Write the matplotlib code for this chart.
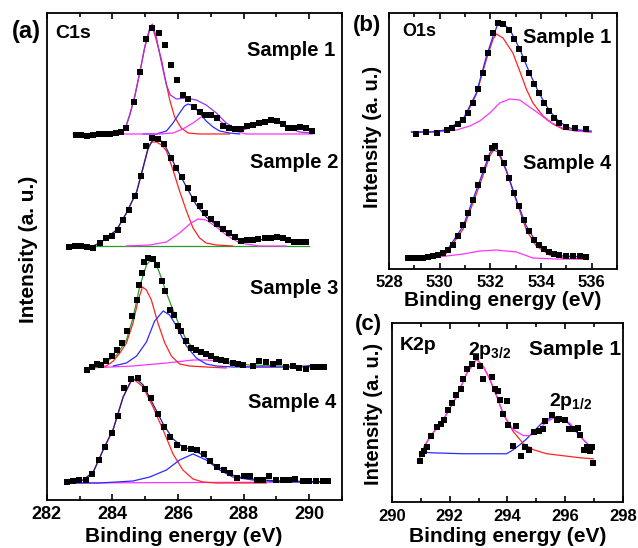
import numpy as np
import matplotlib
matplotlib.use('Agg')
import matplotlib.pyplot as plt
from matplotlib.ticker import MultipleLocator

plt.rcParams['font.family'] = 'Liberation Sans'
plt.rcParams['font.weight'] = 'bold'
plt.rcParams['mathtext.fontset'] = 'custom'
plt.rcParams['mathtext.rm'] = 'Liberation Sans:bold'
plt.rcParams['mathtext.it'] = 'Liberation Sans:bold'
plt.rcParams['mathtext.bf'] = 'Liberation Sans:bold'
plt.rcParams['mathtext.default'] = 'rm'

# ---- (a) C1s, four samples stacked (binding energy, intensity a.u. above own baseline)
a_offsets = [366, 254, 133, 17]
a_samples = ['Sample 1', 'Sample 2', 'Sample 3', 'Sample 4']

a1_pts = [(282.89,-1),(283.06,-1),(283.24,-2),(283.42,-1),(283.59,0),(283.75,0),(283.93,0),(284.10,1),
          (284.25,2),(284.43,6),(284.66,32),(284.84,62),(285.04,95),(285.22,106),(285.41,101),(285.61,89),
          (285.78,69),(285.96,54),(286.15,39),(286.31,35),(286.48,27),(286.66,22),(286.84,19),(287.00,19),
          (287.18,16),(287.37,8),(287.55,6),(287.73,5),(287.93,5),(288.10,8),(288.28,9),(288.46,11),
          (288.66,12),(288.84,14),(289.02,13),(289.19,10),(289.37,6),(289.55,6),(289.73,7),(289.90,6),(290.09,3)]
a1_env = [(282.81,0),(284.23,1),(284.38,4),(284.53,19),(284.68,37),(284.84,62),(284.99,87),(285.14,106),
          (285.22,110),(285.34,97),(285.50,71),(285.65,49),(285.77,39),(285.95,35),(286.26,36),(286.56,34),
          (286.86,29),(287.17,21),(287.47,11),(287.67,7),(287.88,4),(288.08,5),(288.38,9),(288.69,12),
          (288.84,13),(289.09,11),(289.40,6),(289.70,2),(290.05,1)]
a1_red = [(283.62,0),(284.23,1),(284.38,4),(284.53,19),(284.68,37),(284.84,62),(284.99,87),(285.14,104),
          (285.22,107),(285.34,94),(285.50,74),(285.60,57),(285.75,34),(285.90,17),(286.10,6),(286.31,1),
          (286.66,0),(287.57,0)]
a1_blue = [(284.94,0),(285.34,0),(285.65,3),(285.85,11),(286.05,21),(286.20,28),(286.31,30),(286.46,28),
           (286.66,21),(286.86,13),(287.07,7),(287.27,3),(287.57,1),(287.88,0)]
a1_mag = [(282.86,0),(285.44,0),(285.85,1),(286.15,5),(286.46,11),(286.71,17),(286.91,19),(287.12,17),
          (287.32,12),(287.57,6),(287.83,2),(288.08,0),(290.11,0)]

a2_pts = [(282.69,-1),(282.87,0),(283.05,0),(283.24,-1),(283.42,-2),(283.62,3),(283.80,8),(283.98,10),
          (284.16,16),(284.33,26),(284.51,36),(284.70,50),(284.88,70),(285.04,100),(285.22,108),(285.40,107),
          (285.58,102),(285.78,88),(285.95,78),(286.13,69),(286.31,58),(286.49,47),(286.66,40),(286.83,33),
          (287.02,27),(287.19,22),(287.37,17),(287.57,13),(287.74,9),(287.93,5),(288.10,6),(288.28,6),
          (288.45,7),(288.65,8),(288.84,8),(289.02,9),(289.19,8),(289.37,6),(289.55,4),(289.73,4),(289.90,4)]
a2_env = [(282.69,0),(283.42,0),(283.62,3),(284.13,16),(284.43,33),(284.74,54),(284.94,79),(285.09,98),
          (285.22,105),(285.34,107),(285.55,104),(285.75,91),(285.95,78),(286.26,59),(286.56,41),(286.86,29),
          (287.17,21),(287.47,14),(287.78,8),(288.08,5),(288.48,6),(288.99,9),(289.40,6),(289.90,3)]
a2_red = [(283.42,0),(283.62,3),(284.13,16),(284.43,33),(284.74,54),(284.94,78),(285.09,97),(285.19,104),
          (285.34,104),(285.50,101),(285.65,95),(285.85,76),(286.05,55),(286.26,35),(286.46,18),(286.66,8),
          (286.86,3),(287.17,1),(287.67,0)]
a2_mag = [(284.43,0),(285.14,1),(285.65,4),(286.05,13),(286.36,22),(286.61,27),(286.86,26),(287.17,19),
          (287.47,11),(287.88,3),(288.48,0),(289.29,0)]
a2_green = [(282.69,0),(290.00,0)]

a3_pts = [(283.24,-3),(283.37,0),(283.52,3),(283.67,2),(283.82,6),(283.98,11),(284.13,17),(284.28,24),
          (284.46,36),(284.61,51),(284.74,67),(284.82,82),(284.89,94),(284.97,105),(285.09,109),(285.24,108),
          (285.37,102),(285.50,86),(285.62,76),(285.75,57),(285.87,52),(286.00,41),(286.10,36),(286.26,26),
          (286.41,19),(286.56,17),(286.71,15),(286.86,13),(287.02,11),(287.17,8),(287.32,7),(287.47,6),
          (287.67,4),(287.83,3),(287.98,2),(288.28,1),(288.48,6),(288.69,5),(288.89,3),(289.09,5),
          (289.29,0),(289.50,1),(289.70,-1),(289.90,-2),(290.11,0),(290.31,0),(290.46,0)]
a3_env = [(283.27,-3),(283.62,1),(284.13,12),(284.43,27),(284.63,49),(284.84,81),(285.04,102),(285.16,107),
          (285.29,106),(285.44,94),(285.65,74),(285.85,57),(286.05,41),(286.26,27),(286.46,19),(286.76,13),
          (287.17,8),(287.67,4),(288.18,2),(289.19,1),(290.41,0)]
a3_red = [(283.52,0),(283.82,1),(284.03,6),(284.23,14),(284.43,24),(284.63,44),(284.79,67),(284.92,80),
          (285.04,77),(285.19,67),(285.39,44),(285.60,24),(285.80,11),(286.05,3),(286.36,1),(286.86,0),(287.47,-1)]
a3_blue = [(284.03,1),(284.43,4),(284.74,11),(285.04,25),(285.29,46),(285.55,56),(285.75,52),(285.95,41),
           (286.26,21),(286.56,9),(286.86,3),(287.17,1),(287.67,0),(289.40,0),(289.90,1),(290.11,2),
           (290.31,1),(290.46,0)]
a3_mag = [(283.27,-1),(284.63,1),(285.65,4),(286.46,7),(286.86,7),(287.27,6),(287.67,2),(288.18,0),(290.46,0)]

a4_pts = [(282.61,1),(282.79,2),(282.99,3),(283.19,3),(283.37,9),(283.59,23),(283.77,36),(283.98,50),
          (284.16,67),(284.36,95),(284.56,104),(284.77,105),(284.99,94),(285.19,85),(285.39,69),(285.58,56),
          (285.77,46),(285.98,38),(286.18,35),(286.39,34),(286.59,33),(286.78,29),(286.98,22),(287.19,16),
          (287.39,13),(287.59,10),(287.80,5),(288.01,7),(288.20,7),(288.40,3),(288.59,3),(288.79,7),
          (288.99,3),(289.19,3),(289.40,3),(289.58,4),(289.80,2),(290.00,2),(290.21,2),(290.41,2),(290.56,2)]
a4_env = [(282.56,0),(283.11,3),(283.42,11),(283.72,33),(284.03,54),(284.33,86),(284.58,103),(284.74,104),
          (284.94,98),(285.24,79),(285.55,59),(285.85,44),(286.15,36),(286.46,33),(286.76,28),(287.07,19),
          (287.37,13),(287.67,8),(287.98,5),(288.48,3),(289.19,2),(290.61,1)]
a4_red = [(282.56,0),(283.11,3),(283.42,11),(283.72,33),(284.03,54),(284.33,86),(284.58,102),(284.68,103),
          (284.94,96),(285.24,76),(285.55,53),(285.85,29),(286.15,13),(286.46,4),(286.76,1),(287.17,0),(288.69,0)]
a4_blue = [(282.61,0),(283.62,0),(284.63,2),(285.14,6),(285.65,13),(286.05,23),(286.46,29),(286.86,23),
           (287.27,13),(287.67,6),(288.28,3),(289.19,1),(290.61,1)]
a4_mag = [(282.56,0),(290.61,1)]

# ---- (b) O1s
b_offsets = [137, 11]
b_samples = ['Sample 1', 'Sample 4']
b1_pts = [(529.06,-2),(529.48,0),(529.88,-1),(530.27,2),(530.49,4),(530.73,8),(530.93,12),(531.12,19),
          (531.32,29),(531.52,43),(531.71,59),(531.91,79),(532.11,99),(532.30,109),(532.50,108),(532.72,102),
          (532.92,93),(533.12,83),(533.31,73),(533.51,59),(533.71,48),(533.91,39),(534.10,29),(534.30,21),
          (534.50,14),(534.73,9),(534.99,5),(535.36,4),(535.76,3)]
b1_env = [(528.89,0),(529.61,0),(530.27,2),(530.93,13),(531.45,39),(531.85,76),(532.11,96),(532.30,108),
          (532.50,108),(532.76,103),(533.16,83),(533.55,59),(533.94,38),(534.34,21),(534.73,10),(535.13,4),
          (535.52,2),(535.98,1)]
b1_red = [(528.89,0),(529.61,0),(530.27,2),(530.93,11),(531.45,38),(531.85,73),(532.11,93),(532.24,98),
          (532.50,94),(532.89,79),(533.16,61),(533.42,43),(533.68,29),(534.08,16),(534.47,8),(534.86,3),
          (535.39,1),(535.98,0)]
b1_mag = [(528.89,0),(529.88,0),(530.66,2),(531.19,6),(531.58,11),(531.98,19),(532.37,29),(532.76,33),
          (533.16,32),(533.55,25),(533.94,18),(534.34,10),(534.86,4),(535.39,1),(535.98,0)]

b4_pts = [(528.76,0),(528.96,0),(529.15,0),(529.35,0),(529.55,1),(529.75,2),(529.94,3),(530.14,5),
          (530.34,8),(530.53,13),(530.73,22),(530.93,33),(531.12,45),(531.32,58),(531.52,73),(531.71,88),
          (531.88,100),(532.07,110),(532.20,112),(532.37,105),(532.53,95),(532.72,80),(532.92,65),(533.12,52),
          (533.31,38),(533.51,27),(533.71,18),(533.91,13),(534.10,9),(534.30,6),(534.50,4),(534.73,3),
          (534.99,2),(535.26,2),(535.52,2),(535.78,1)]
b4_env = [(528.72,0),(529.61,1),(530.27,7),(530.93,32),(531.58,77),(531.98,105),(532.13,110),(532.30,108),
          (532.63,88),(533.03,58),(533.42,32),(533.81,16),(534.34,6),(534.86,2),(535.85,1)]
b4_red = [(528.72,-1),(529.61,0),(530.27,5),(530.93,29),(531.58,73),(531.98,102),(532.13,108),(532.30,106),
          (532.63,87),(533.03,57),(533.42,28),(533.81,12),(534.34,3),(534.86,0),(535.85,-1)]
b4_mag = [(528.72,-1),(529.61,0),(530.93,4),(531.58,7),(532.24,8),(533.03,6),(533.68,0),(534.60,-1),(535.85,-1)]

# ---- (c) K2p, sample 1
c_pts = [(290.97,41),(291.04,48),(291.11,51),(291.20,55),(291.34,66),(291.57,75),(291.69,78),(291.80,82),
         (291.95,92),(292.07,98),(292.22,106),(292.38,112),(292.45,122),(292.59,132),(292.76,137),(292.91,144),
         (293.05,135),(293.14,122),(293.45,124),(293.55,112),(293.68,110),(293.74,101),(293.83,88),(293.97,100),
         (294.03,77),(294.18,56),(294.28,76),(294.46,46),(294.61,55),(294.76,52),(294.93,70),(295.10,71),
         (295.22,73),(295.30,81),(295.53,87),(295.70,82),(295.80,83),(296.00,82),(296.14,73),(296.34,73),
         (296.45,74),(296.51,67),(296.65,52),(296.74,55),(296.86,51),(296.92,55),(296.97,39)]
c_env = [(290.97,45),(291.11,55),(291.32,65),(291.78,82),(292.24,105),(292.59,128),(292.93,142),(293.16,135),
         (293.39,122),(293.63,105),(293.86,87),(294.20,72),(294.55,66),(294.78,66),(295.01,70),(295.36,80),
         (295.70,85),(295.94,83),(296.17,78),(296.40,70),(296.63,62),(296.86,55),(296.97,52)]
c_red = [(290.97,45),(291.11,55),(291.32,65),(291.78,82),(292.24,105),(292.59,128),(292.93,142),(293.16,135),
         (293.39,122),(293.63,105),(293.86,87),(294.20,70),(294.55,58),(294.90,52),(295.36,48),(295.94,46),
         (296.51,44),(296.97,43)]
c_blue = [(290.97,45),(291.04,50),(291.32,49),(292.47,48),(293.63,48),(293.97,48),(294.20,52),(294.43,57),
          (294.67,63),(294.90,70),(295.24,80),(295.59,85),(295.82,84),(296.05,80),(296.28,73),(296.63,62),
          (296.97,52)]

RED = '#ff2222'
BLUE = '#2a2aff'
MAG = '#ff33ff'
PURPLE = '#9a30f0'
NAVY = '#202090'
GREEN = '#2a9a2a'


def line(ax, pts, off, color):
    arr = np.array(pts, dtype=float)
    ax.plot(arr[:, 0], arr[:, 1] + off, color=color, lw=0.9)


def dots(ax, pts, off):
    arr = np.array(pts, dtype=float)
    ax.plot(arr[:, 0], arr[:, 1] + off, 's', color='black', ms=3.8, mew=0, zorder=5)


def style(ax, xlo, xhi, ylim, tsize, tpad):
    ax.set_xlim(xlo, xhi)
    ax.set_ylim(0, ylim)
    ax.xaxis.set_major_locator(MultipleLocator(2))
    ax.xaxis.set_minor_locator(MultipleLocator(1))
    ax.set_yticks([])
    ax.tick_params(which='both', direction='in', top=True, width=1.2, pad=tpad, labelsize=tsize)
    ax.tick_params(which='major', length=4)
    ax.tick_params(which='minor', length=3)
    for s in ax.spines.values():
        s.set_linewidth(1.3)


fig = plt.figure(figsize=(6.38, 5.48), dpi=100)
axa = fig.add_axes([0.0732, 0.0876, 0.4628, 0.8887])
axb = fig.add_axes([0.6097, 0.5091, 0.3574, 0.4672])
axc = fig.add_axes([0.6144, 0.0839, 0.3621, 0.3266])

# panel a
o = a_offsets
line(axa, a1_red, o[0], RED); line(axa, a1_blue, o[0], BLUE); line(axa, a1_mag, o[0], MAG)
line(axa, a1_env, o[0], PURPLE); dots(axa, a1_pts, o[0])
line(axa, a2_green, o[1], GREEN); line(axa, a2_red, o[1], RED); line(axa, a2_mag, o[1], MAG)
line(axa, a2_env, o[1], NAVY); dots(axa, a2_pts, o[1])
line(axa, a3_mag, o[2], MAG); line(axa, a3_red, o[2], RED); line(axa, a3_blue, o[2], BLUE)
line(axa, a3_env, o[2], GREEN); dots(axa, a3_pts, o[2])
line(axa, a4_mag, o[3], MAG); line(axa, a4_red, o[3], RED); line(axa, a4_blue, o[3], BLUE)
line(axa, a4_env, o[3], NAVY); dots(axa, a4_pts, o[3])
style(axa, 282, 291, 487, 13, 4)
axa.set_xlabel('Binding energy (eV)', fontsize=15, fontweight='bold')
axa.xaxis.set_label_coords(0.465, -0.055)
axa.set_ylabel('Intensity (a. u.)', fontsize=15, fontweight='bold')
axa.yaxis.set_label_coords(-0.03, 0.515)
axa.text(0.028, 0.957, 'C1s', transform=axa.transAxes, fontsize=14, va='center')
for lab, fx, fy in zip(a_samples, [0.679, 0.689, 0.689, 0.682], [0.924, 0.692, 0.435, 0.201]):
    axa.text(fx, fy, lab, transform=axa.transAxes, fontsize=14.5, va='center')

# panel b
o = b_offsets
line(axb, b1_red, o[0], RED); line(axb, b1_mag, o[0], MAG)
line(axb, b1_env, o[0], BLUE); dots(axb, b1_pts, o[0])
line(axb, b4_mag, o[1], MAG); line(axb, b4_red, o[1], RED)
line(axb, b4_env, o[1], BLUE); dots(axb, b4_pts, o[1])
style(axb, 528, 537, 256, 12, 4.5)
axb.set_xlabel('Binding energy (eV)', fontsize=15, fontweight='bold')
axb.xaxis.set_label_coords(0.5, -0.085)
axb.set_ylabel('Intensity (a. u.)', fontsize=14.5, fontweight='bold')
axb.yaxis.set_label_coords(-0.031, 0.516)
axb.text(0.057, 0.926, 'O1s', transform=axb.transAxes, fontsize=13, va='center')
axb.text(0.588, 0.906, b_samples[0], transform=axb.transAxes, fontsize=14.5, va='center')
axb.text(0.588, 0.414, b_samples[1], transform=axb.transAxes, fontsize=14.5, va='center')

# panel c
line(axc, c_blue, 0, BLUE); line(axc, c_red, 0, RED)
line(axc, c_env, 0, MAG); dots(axc, c_pts, 0)
style(axc, 290, 298, 178, 12, 5)
axc.set_xlabel('Binding energy (eV)', fontsize=15, fontweight='bold')
axc.xaxis.set_label_coords(0.5, -0.14)
axc.set_ylabel('Intensity (a. u.)', fontsize=14.5, fontweight='bold')
axc.yaxis.set_label_coords(-0.039, 0.49)
axc.text(0.035, 0.877, 'K2p', transform=axc.transAxes, fontsize=14, va='center')
axc.text(0.329, 0.821, r'2p$_{3/2}$', transform=axc.transAxes, fontsize=14, va='baseline')
axc.text(0.593, 0.821, 'Sample 1', transform=axc.transAxes, fontsize=15, va='baseline')
axc.text(0.68, 0.536, r'2p$_{1/2}$', transform=axc.transAxes, fontsize=14, va='baseline')

# panel letters
fig.text(0.042, 0.942, '(a)', fontsize=17, ha='center', va='center')
fig.text(0.575, 0.954, '(b)', fontsize=16, ha='center', va='center')
fig.text(0.578, 0.407, '(c)', fontsize=16, ha='center', va='center')

fig.savefig('out.png', dpi=100)
